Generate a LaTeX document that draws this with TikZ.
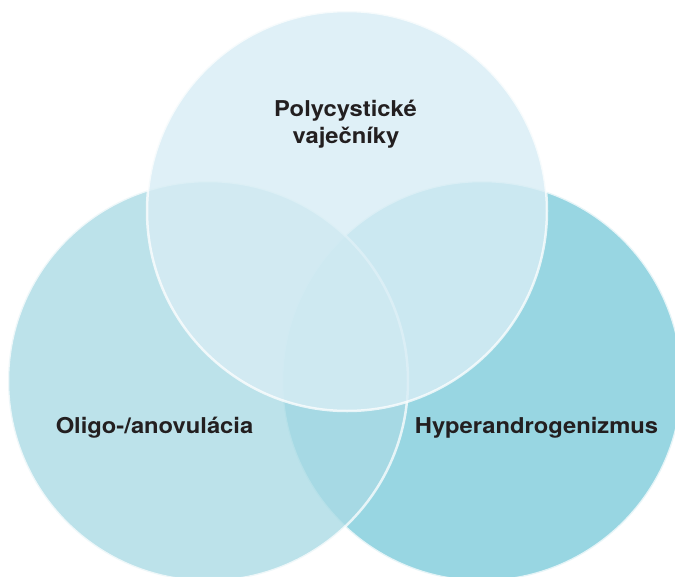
\documentclass[tikz,border=0pt]{standalone}
\usepackage{fontspec}
\setmainfont{TeX Gyre Heros}[FakeStretch=1.09]
\definecolor{cright}{RGB}{152,214,226}
\definecolor{cleft}{RGB}{170,219,229}
\definecolor{ctop}{RGB}{216,237,245}
\definecolor{ctext}{RGB}{35,31,32}
\tikzset{
  venn/.style={line width=2.5pt, draw=white, draw opacity=0.75},
  lbl/.style={font=\bfseries\fontsize{21.8}{27}\selectfont, text=ctext, align=center, inner sep=0pt}
}
\begin{document}
\begin{tikzpicture}[x=1pt,y=-1pt]
\useasboundingbox (0,0) rectangle (675,576);
\fill[white] (0,0) rectangle (675,576);
\coordinate (cr) at (482,381);
\coordinate (cl) at (208,381);
\coordinate (ct) at (347,211);
\path[venn, fill=cright] (cr) circle[radius=200];
\path[venn, fill=cleft, fill opacity=0.78] (cl) circle[radius=200];
\path[venn, fill=ctop, fill opacity=0.8] (ct) circle[radius=200];
\node[lbl, anchor=base] (top) at (345.5,116) {Polycystické};
\node[lbl, anchor=base] (top2) at (346,143) {vaječníky};
\node[lbl, anchor=base] (left) at (154.5,433.3) {Oligo-/anovulácia};
\node[lbl, anchor=base] (right) at (536.5,433.3) {Hyperandrogenizmus};
\end{tikzpicture}
\end{document}
